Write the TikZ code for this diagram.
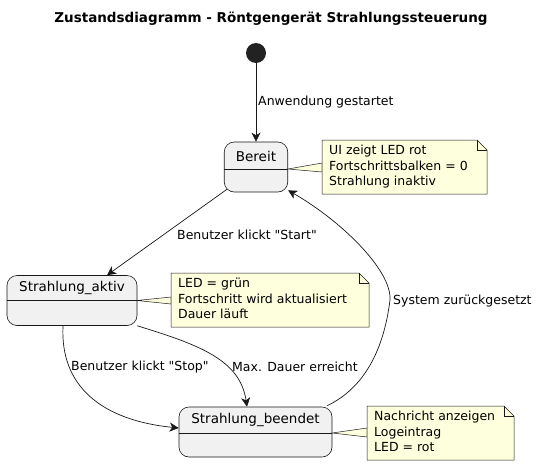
\documentclass[tikz,border=0pt]{standalone}
\usepackage{fontspec}
\setmainfont{DejaVu Sans}[Ligatures=TeXOff]
\usetikzlibrary{arrows.meta}
\definecolor{statefill}{HTML}{F1F1F1}
\definecolor{lineclr}{HTML}{181818}
\definecolor{notefill}{HTML}{FEFFDD}
\definecolor{startclr}{HTML}{222222}
\begin{document}
\begin{tikzpicture}[x=1pt,y=-1pt,
 statebox/.style={draw=lineclr, fill=statefill, rounded corners=10pt, line width=0.6pt, inner sep=0pt},
 statename/.style={font=\fontsize{13.5}{16}\selectfont, inner sep=0pt},
 divider/.style={draw=lineclr, line width=0.6pt},
 lbl/.style={font=\fontsize{12.5}{15}\selectfont, anchor=west, inner sep=0pt},
 notetext/.style={font=\fontsize{12.5}{15.5}\selectfont, align=left, anchor=north west, inner sep=0pt},
 notebox/.style={draw=lineclr, fill=notefill, line width=0.5pt},
 trans/.style={draw=lineclr, line width=0.7pt, -{Stealth[length=9pt,width=9pt,inset=2.5pt]}},
]
\useasboundingbox (0,0) rectangle (543,466);

% title
\node[font=\bfseries\fontsize{13.5}{16}\selectfont, inner sep=0pt] (title) at (271,19) {Zustandsdiagramm - Röntgengerät Strahlungssteuerung};

% start
\node[circle, fill=startclr, minimum size=20pt, inner sep=0pt] (start) at (256,53) {};

% states
\node[statebox, minimum width=63.5pt, minimum height=50pt] (bereit) at (256,167) {};
\node[statename] (bereitname) at (256,156) {Bereit};
\draw[divider] (224.25,169) -- (287.75,169);

\node[statebox, minimum width=130pt, minimum height=50pt] (aktiv) at (72,300.5) {};
\node[statename] (aktivname) at (72,288) {Strahlung\_aktiv};
\draw[divider] (7,300.5) -- (137,300.5);

\node[statebox, minimum width=153pt, minimum height=50pt] (beendet) at (255.5,432) {};
\node[statename] (beendetname) at (255.5,420) {Strahlung\_beendet};
\draw[divider] (179,433) -- (332,433);

% note wedges
\path[notebox] (288,169) -- (322,163) -- (322,172) -- cycle;
\path[notebox] (137,300.5) -- (171,297) -- (171,304) -- cycle;
\path[notebox] (332,433) -- (367,428) -- (367,437) -- cycle;

% notes
\path[notebox] (322,140) -- (477,140) -- (487,150) -- (487,194) -- (322,194) -- cycle;
\draw[lineclr, line width=0.5pt] (477,140) -- (477,150) -- (487,150);
\node[notetext] (note1) at (329,145) {UI zeigt LED rot\\Fortschrittsbalken = 0\\Strahlung inaktiv};

\path[notebox] (171,273) -- (359,273) -- (369,283) -- (369,327) -- (171,327) -- cycle;
\draw[lineclr, line width=0.5pt] (359,273) -- (359,283) -- (369,283);
\node[notetext] (note2) at (178,278) {LED = grün\\Fortschritt wird aktualisiert\\Dauer läuft};

\path[notebox] (367,406) -- (504,406) -- (514,416) -- (514,460) -- (367,460) -- cycle;
\draw[lineclr, line width=0.5pt] (504,406) -- (504,416) -- (514,416);
\node[notetext] (note3) at (374,411) {Nachricht anzeigen\\Logeintrag\\LED = rot};

% transitions
\draw[trans] (start) -- (bereit);
\draw[trans] ([shift={(3,-3)}]bereit.south west) -- ([xshift=35pt]aktiv.north);
\draw[trans] ([xshift=-9pt]aktiv.south) .. controls (60,385) and (100,420) .. ([yshift=4pt]beendet.west);
\draw[trans] (aktiv.south east) .. controls (200,345) and (240,360) .. ([xshift=-8.5pt]beendet.north);
\draw[trans] ([shift={(-5,-1)}]beendet.north east) .. controls (370,385) and (385,340) .. (390,300) .. controls (392,270) and (340,220) .. ([shift={(0,-2)}]bereit.south east);

% labels
\node[lbl] (l1) at (258,102) {Anwendung gestartet};
\node[lbl] (l2) at (177,235) {Benutzer klickt "Start"};
\node[lbl] (l3) at (71,367) {Benutzer klickt "Stop"};
\node[lbl] (l4) at (232,367) {Max. Dauer erreicht};
\node[lbl] (l5) at (393,301) {System zurückgesetzt};
\end{tikzpicture}
\end{document}
